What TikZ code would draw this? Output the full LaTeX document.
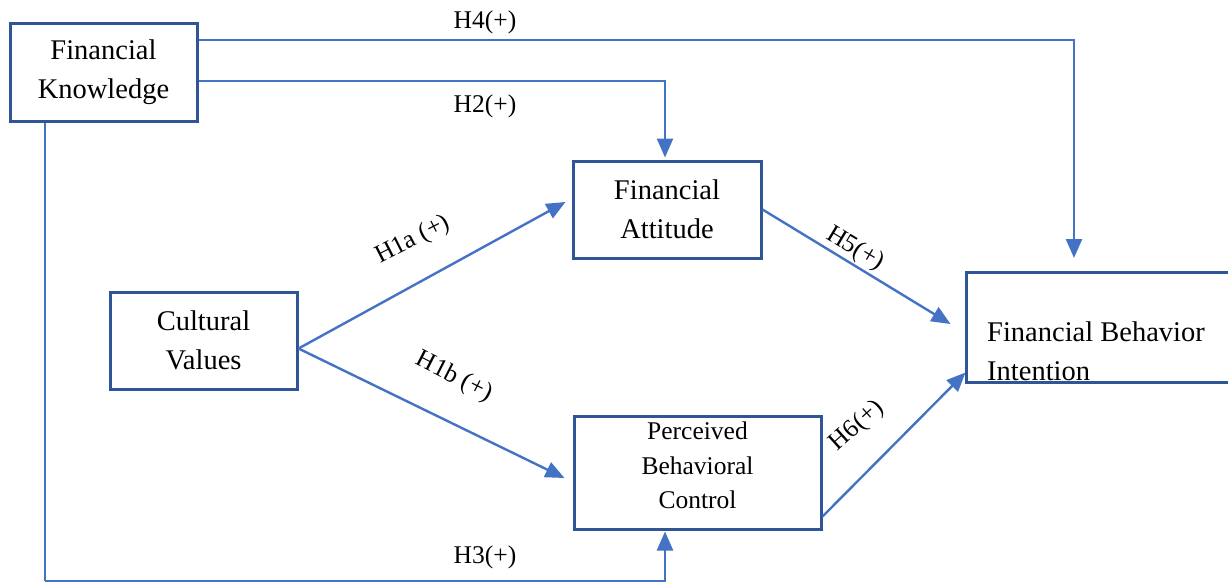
\documentclass[tikz,border=0pt]{standalone}
\usepackage{fontspec}
\setmainfont{Liberation Serif}
\usetikzlibrary{arrows.meta,calc}
\definecolor{boxblue}{RGB}{47,85,151}
\definecolor{arrblue}{RGB}{68,114,196}
\begin{document}
\begin{tikzpicture}[x=1pt,y=-1pt,
  box/.style={draw=boxblue,line width=3pt,rectangle,inner sep=0pt,fill=white,
    font=\fontsize{28.5}{39}\selectfont,align=center},
  conn/.style={draw=arrblue,line width=2.4pt,-{Triangle[length=19pt,width=16pt]}},
  plain/.style={draw=arrblue,line width=2.4pt},
  hlab/.style={font=\fontsize{25.5}{30}\selectfont,inner sep=0pt}]
\useasboundingbox (0,0) rectangle (1228,584);
% boxes
\node[box,minimum width=187pt,minimum height=98pt] (fk) at (103.5,72) {Financial\\Knowledge};
\node[box,minimum width=188pt,minimum height=97pt] (fa) at (667,209.5) {Financial\\Attitude};
\node[box,minimum width=187pt,minimum height=97pt] (cv) at (203.5,340.5) {Cultural\\Values};
\node[box,minimum width=247pt,minimum height=113pt] (pbc) at (697.5,472.5) {};
\node[font=\fontsize{25.5}{34.5}\selectfont,align=center,inner sep=0pt] (pbct) at (697.5,465.5) {Perceived\\Behavioral\\Control};
\node[box,minimum width=280pt,minimum height=110pt] (fbi) at (1106,327) {};
\node[font=\fontsize{28.5}{39}\selectfont,align=left,inner sep=0pt,anchor=west] (fbit) at (987,351) {Financial Behavior\\Intention};
% connectors
\coordinate (c4) at (1074,258);
\coordinate (c3) at (45,581);
\draw[conn] ([yshift=32pt]fk.east) -| (c4);
\draw[conn] ([yshift=-9pt]fk.east) -| ([xshift=-2pt,yshift=2pt]fa.north);
\draw[plain] ([xshift=-58.5pt]fk.south) -- (c3);
\draw[conn] (c3) -| ([xshift=-32.5pt,yshift=-1pt]pbc.south);
\draw[conn] ([yshift=-8pt]cv.east) -- ([xshift=-6pt,yshift=7.5pt]fa.west);
\draw[conn] ([yshift=-8pt]cv.east) -- ([xshift=-8pt,yshift=-5.5pt]pbc.west);
\draw[conn] (fa.east) -- ([xshift=-14pt,yshift=3pt]fbi.west);
\draw[conn] ([yshift=14pt]pbc.south east) -- ([xshift=1pt,yshift=11pt]fbi.south west);
% labels
\node[hlab] (h4) at (485,22) {H4(+)};
\node[hlab] (h2) at (485,106) {H2(+)};
\node[hlab] (h3) at (485,557) {H3(+)};
\node[hlab,rotate=27] (h1a) at (413,240) {H1a (+)};
\node[hlab,rotate=-27] (h1b) at (454,377) {H1b (+)};
\node[hlab,rotate=-31] (h5) at (855,249) {H5(+)};
\node[hlab,rotate=42] (h6) at (857,426) {H6(+)};
\end{tikzpicture}
\end{document}
